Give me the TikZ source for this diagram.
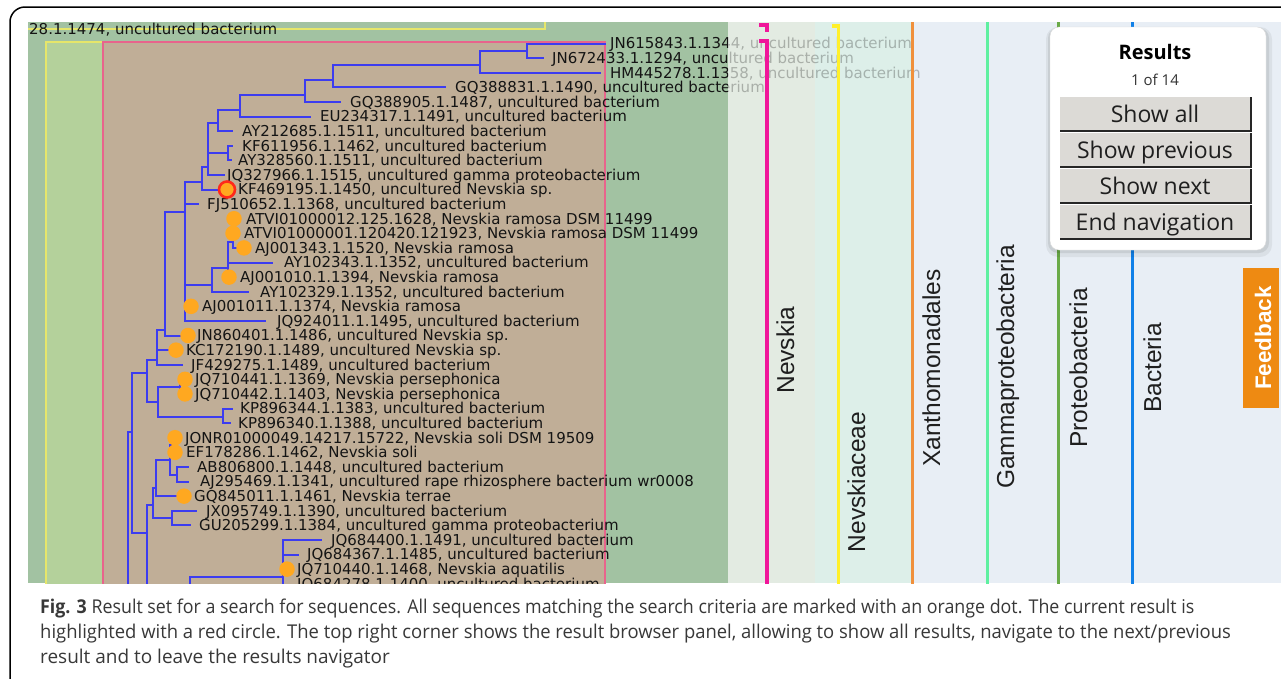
\documentclass[tikz,border=0pt]{standalone}
\usepackage{graphicx}
\usepackage{fontspec}
\setmainfont{DejaVu Sans}
\newfontfamily\treefont{DejaVu Sans}
\newfontfamily\labfont{Liberation Sans}
\newfontfamily\uifont{Open Sans}
\newfontfamily\capfont[FakeStretch=0.97]{Open Sans}
\definecolor{dgreen}{HTML}{A2C2A2}
\definecolor{lgreen}{HTML}{B4D19B}
\definecolor{tantone}{HTML}{C0AE97}
\definecolor{pinkb}{HTML}{E8648C}
\definecolor{yellowb}{HTML}{E6E66A}
\definecolor{treeblue}{HTML}{3C3CF0}
\definecolor{dotor}{HTML}{FFA820}
\definecolor{curred}{HTML}{FF2A1A}
\definecolor{bandA}{HTML}{E3EBE2}
\definecolor{bandB}{HTML}{DDEFE9}
\definecolor{bandC}{HTML}{E8EEF5}
\definecolor{lnpink}{HTML}{F0169A}
\definecolor{lnyellow}{HTML}{FFF02A}
\definecolor{lnorange}{HTML}{F0903C}
\definecolor{lnlgreen}{HTML}{5EF0A0}
\definecolor{lndgreen}{HTML}{6AAA48}
\definecolor{lnblue}{HTML}{1080E8}
\definecolor{btngray}{HTML}{DCDAD6}
\definecolor{fbor}{HTML}{EE8A12}
\tikzset{
 treeline/.style={draw=treeblue, line width=2pt, line cap=rect},
 leaf/.style={anchor=base west, inner sep=0pt, font=\treefont\fontsize{15}{15}\selectfont, text=black!92},
 hit/.style={circle, fill=dotor, draw=none, minimum size=15.5pt, inner sep=0pt},
 cur/.style={circle, fill=dotor, draw=curred, line width=2.6pt, minimum size=16pt, inner sep=0pt},
 rank/.style={rotate=90, anchor=base, inner sep=0pt, font=\labfont\fontsize{24.5}{24.5}\selectfont, text=black!88},
 btntext/.style={anchor=base, inner sep=0pt, font=\uifont\fontsize{23}{23}\selectfont, text=black!88},
 capline/.style={anchor=base west, inner sep=0pt, font=\capfont\fontsize{19}{19}\selectfont, text=black!78},
}
\newcommand\tV[3]{\draw[treeline] (#1,#2) -- (#1,#3);}
\newcommand\tH[3]{\draw[treeline] (#1,#3) -- (#2,#3);}
\newcommand\leaf[4]{\node[leaf] (#1) at (#2,#3+5.4) {#4};}
\begin{document}
\begin{tikzpicture}[x=1pt,y=-1pt]
\useasboundingbox (0,0) rectangle (1281,678);
\fill[white] (0,0) rectangle (1281,678);
\draw[line width=1.5pt, rounded corners=15pt] (10,720) -- (10,7) -- (1320,7);
\begin{scope}
\clip (28,22) rectangle (1281,583);
\fill[dgreen] (28,22) rectangle (728,583);
\fill[bandA] (728,22) rectangle (815,583);
\fill[bandB] (815,22) rectangle (912,583);
\fill[bandC] (912,22) rectangle (1281,583);
\draw[yellowb, line width=2pt] (20,29) -- (545,29) -- (545,20);
\filldraw[fill=lgreen, draw=yellowb, line width=2pt] (46,42) rectangle (605,600);
\filldraw[fill=tantone, draw=pinkb, line width=2pt] (103,42) rectangle (605,600);
\node[leaf] (l0) at (29,34) {28.1.1474, uncultured bacterium};
% tree
\tV{527}{43.5}{58.1} \tH{527}{605}{43.5} \tH{527}{543}{58.1}
\tV{480}{51}{72.7} \tH{480}{527}{51} \tH{480}{600}{72.7}
\tV{333}{65}{87.3} \tH{333}{480}{65} \tH{333}{445}{87.3}
\tV{305}{80}{101.9} \tH{305}{333}{80} \tH{305}{340}{101.9}
\tV{240}{95}{116.5} \tH{240}{305}{95} \tH{240}{310}{116.5}
\tV{218}{110}{131.1} \tH{218}{240}{110} \tH{218}{232}{131.1}
\tV{228}{145.7}{160.3} \tH{228}{232}{145.7} \tH{228}{231}{160.3}
\tV{208}{123}{174.9} \tH{208}{218}{123} \tH{208}{228}{153} \tH{208}{224}{174.9}
\tV{202}{167}{189.5} \tH{202}{208}{167} \tH{202}{222}{189.5}
\tV{233}{218.7}{247.9} \tH{233}{244}{247.9}
\tV{228}{242}{277.1} \tH{228}{233}{242} \tH{228}{272}{262.5} \tH{228}{229}{277.1}
\tV{212}{268}{291.7} \tH{212}{228}{268} \tH{212}{248}{291.7}
\tV{185}{182}{320.9} \tH{185}{202}{182} \tH{185}{198}{204.1} \tH{185}{212}{285} \tH{185}{191}{306.3} \tH{185}{265}{320.9}
\tV{165}{212}{335.5} \tH{165}{185}{212} \tH{165}{188}{335.5}
\tV{157}{330}{364.7} \tH{157}{165}{330} \tH{157}{176}{350.1} \tH{157}{182}{364.7}
\tV{180}{379.3}{393.9} \tH{180}{185}{379.3} \tH{180}{185}{393.9}
\tV{223}{408.5}{423.1} \tH{223}{232}{408.5} \tH{223}{230}{423.1}
\tV{158}{387}{417} \tH{158}{180}{387} \tH{158}{223}{417}
\tV{147}{360}{402} \tH{147}{157}{360} \tH{147}{158}{402}
\tV{132}{373}{533} \tH{132}{147}{373} \tH{132}{147}{533}
\tV{128}{432}{590} \tH{128}{132}{432}
\tV{172}{437.7}{452.3} \tH{172}{175}{437.7} \tH{172}{175}{452.3}
\tV{177}{466.9}{481.5} \tH{177}{188}{466.9} \tH{177}{188}{481.5}
\tV{170}{445}{475} \tH{170}{172}{445} \tH{170}{177}{475}
\tV{156}{460}{496.1} \tH{156}{170}{460} \tH{156}{184}{496.1}
\tV{172}{510.7}{525.3} \tH{172}{196}{510.7} \tH{172}{190}{525.3}
\tV{153}{488}{518} \tH{153}{156}{488} \tH{153}{172}{518}
\tV{147}{505}{590} \tH{147}{153}{505}
\tV{283}{539.9}{590} \tH{283}{321}{539.9} \tH{283}{298}{554.5} \tH{283}{287}{569.1} \tH{190}{283}{577}
\tV{190}{577}{590}
% leaves
\leaf{l1}{610}{43.5}{JN615843.1.1344, uncultured bacterium}
\leaf{l2}{552}{58.1}{JN672433.1.1294, uncultured bacterium}
\leaf{l3}{610}{72.7}{HM445278.1.1358, uncultured bacterium}
\leaf{l4}{455}{87.3}{GQ388831.1.1490, uncultured bacterium}
\leaf{l5}{350}{101.9}{GQ388905.1.1487, uncultured bacterium}
\leaf{l6}{320}{116.5}{EU234317.1.1491, uncultured bacterium}
\leaf{l7}{242}{131.1}{AY212685.1.1511, uncultured bacterium}
\leaf{l8}{242}{145.7}{KF611956.1.1462, uncultured bacterium}
\leaf{l9}{238}{160.3}{AY328560.1.1511, uncultured bacterium}
\leaf{l10}{227}{174.9}{JQ327966.1.1515, uncultured gamma proteobacterium}
\leaf{l11}{238}{189.5}{KF469195.1.1450, uncultured Nevskia sp.}
\leaf{l12}{207}{204.1}{FJ510652.1.1368, uncultured bacterium}
\leaf{l13}{246}{218.7}{ATVI01000012.125.1628, Nevskia ramosa DSM 11499}
\leaf{l14}{244}{233.3}{ATVI01000001.120420.121923, Nevskia ramosa DSM 11499}
\leaf{l15}{255}{247.9}{AJ001343.1.1520, Nevskia ramosa}
\leaf{l16}{284}{262.5}{AY102343.1.1352, uncultured bacterium}
\leaf{l17}{240}{277.1}{AJ001010.1.1394, Nevskia ramosa}
\leaf{l18}{260}{291.7}{AY102329.1.1352, uncultured bacterium}
\leaf{l19}{202}{306.3}{AJ001011.1.1374, Nevskia ramosa}
\leaf{l20}{277}{320.9}{JQ924011.1.1495, uncultured bacterium}
\leaf{l21}{197}{335.5}{JN860401.1.1486, uncultured Nevskia sp.}
\leaf{l22}{186}{350.1}{KC172190.1.1489, uncultured Nevskia sp.}
\leaf{l23}{191}{364.7}{JF429275.1.1489, uncultured bacterium}
\leaf{l24}{195}{379.3}{JQ710441.1.1369, Nevskia persephonica}
\leaf{l25}{195}{393.9}{JQ710442.1.1403, Nevskia persephonica}
\leaf{l26}{240}{408.5}{KP896344.1.1383, uncultured bacterium}
\leaf{l27}{238}{423.1}{KP896340.1.1388, uncultured bacterium}
\leaf{l28}{185}{437.7}{JONR01000049.14217.15722, Nevskia soli DSM 19509}
\leaf{l29}{186}{452.3}{EF178286.1.1462, Nevskia soli}
\leaf{l30}{197}{466.9}{AB806800.1.1448, uncultured bacterium}
\leaf{l31}{200}{481.5}{AJ295469.1.1341, uncultured rape rhizosphere bacterium wr0008}
\leaf{l32}{194}{496.1}{GQ845011.1.1461, Nevskia terrae}
\leaf{l33}{206}{510.7}{JX095749.1.1390, uncultured bacterium}
\leaf{l34}{199}{525.3}{GU205299.1.1384, uncultured gamma proteobacterium}
\leaf{l35}{331}{539.9}{JQ684400.1.1491, uncultured bacterium}
\leaf{l36}{307}{554.5}{JQ684367.1.1485, uncultured bacterium}
\leaf{l37}{297}{569.1}{JQ710440.1.1468, Nevskia aquatilis}
\leaf{l38}{297}{583.7}{JQ684278.1.1400, uncultured bacterium}
% search hits
\node[cur] (d11) at (227,189.5) {};
\node[hit] (d13) at (234,218.7) {};
\node[hit] (d14) at (233,233.3) {};
\node[hit] (d15) at (244,247.9) {};
\node[hit] (d17) at (229,277.1) {};
\node[hit] (d19) at (191,306.3) {};
\node[hit] (d21) at (188,335.5) {};
\node[hit] (d22) at (176,350.1) {};
\node[hit] (d24) at (185,379.3) {};
\node[hit] (d25) at (185,393.9) {};
\node[hit] (d28) at (175,437.7) {};
\node[hit] (d29) at (175,452.3) {};
\node[hit] (d32) at (184,496.1) {};
\node[hit] (d37) at (287,569.1) {};
% translucent taxonomy panels over the text
\fill[bandA, fill opacity=0.72] (728,22) rectangle (815,583);
\fill[bandB, fill opacity=0.72] (815,22) rectangle (912,583);
\fill[bandC, fill opacity=0.72] (912,22) rectangle (1281,583);
% rank lines
\draw[lnpink, line width=3.5pt] (759,25) -- (767,25) -- (767,32);
\draw[lnpink, line width=3.5pt] (759,41) -- (767,41) -- (767,590);
\draw[lnyellow, line width=3.5pt] (832,26) -- (838.5,26) -- (838.5,590);
\draw[lnorange, line width=3pt] (912.5,20) -- (912.5,590);
\draw[lnlgreen, line width=3pt] (987.5,20) -- (987.5,590);
\draw[lndgreen, line width=3pt] (1058.5,20) -- (1058.5,590);
\draw[lnblue, line width=3pt] (1132.5,20) -- (1132.5,590);
\node[rank] (tNev) at (794,350) {Nevskia};
\node[rank] (tNevc) at (865,482) {Nevskiaceae};
\node[rank] (tXan) at (940,368) {Xanthomonadales};
\node[rank] (tGam) at (1014,367) {Gammaproteobacteria};
\node[rank] (tPro) at (1087,368) {Proteobacteria};
\node[rank] (tBac) at (1161,368) {Bacteria};
% feedback tab
\fill[fbor] (1243,268) rectangle (1279,408);
\node[rotate=90, anchor=base, inner sep=0pt, text=white, font=\labfont\bfseries\fontsize{22.5}{22.5}\selectfont] (fb) at (1271,338) {Feedback};
% results panel
\fill[black, opacity=0.06, rounded corners=12pt] (1046,27) rectangle (1272,257);
\fill[black, opacity=0.08, rounded corners=10pt] (1048,28) rectangle (1269,253);
\filldraw[fill=white, draw=black!15, rounded corners=9pt] (1050,27) rectangle (1266,250);
\node[anchor=base, inner sep=0pt, font=\uifont\bfseries\fontsize{20}{20}\selectfont] (rTitle) at (1155,59) {Results};
\node[anchor=base, inner sep=0pt, font=\uifont\fontsize{15}{15}\selectfont, text=black!80] (rCount) at (1155,85) {1 of 14};
\foreach \yt/\yb in {97/131, 133/167, 169/203, 205/239}{
  \fill[btngray] (1060,\yt) rectangle (1251,\yb);
  \draw[black!85, line width=2pt] (1060,\yb) -- (1251,\yb) -- (1251,\yt);
}
\node[btntext] (bA) at (1155,122) {Show all};
\node[btntext] (bB) at (1155,158) {Show previous};
\node[btntext] (bC) at (1155,194) {Show next};
\node[btntext] (bD) at (1155,230) {End navigation};
\end{scope}
% caption
\node[capline] (c1) at (40,613) {\scalebox{0.967}[1]{{\bfseries Fig. 3} Result set for a search for sequences. All sequences matching the search criteria are marked with an orange dot. The current result is}};
\node[capline] (c2) at (40,638) {highlighted with a red circle. The top right corner shows the result browser panel, allowing to show all results, navigate to the next/previous};
\node[capline] (c3) at (40,663) {\scalebox{1.03}[1]{result and to leave the results navigator}};
\end{tikzpicture}
\end{document}
